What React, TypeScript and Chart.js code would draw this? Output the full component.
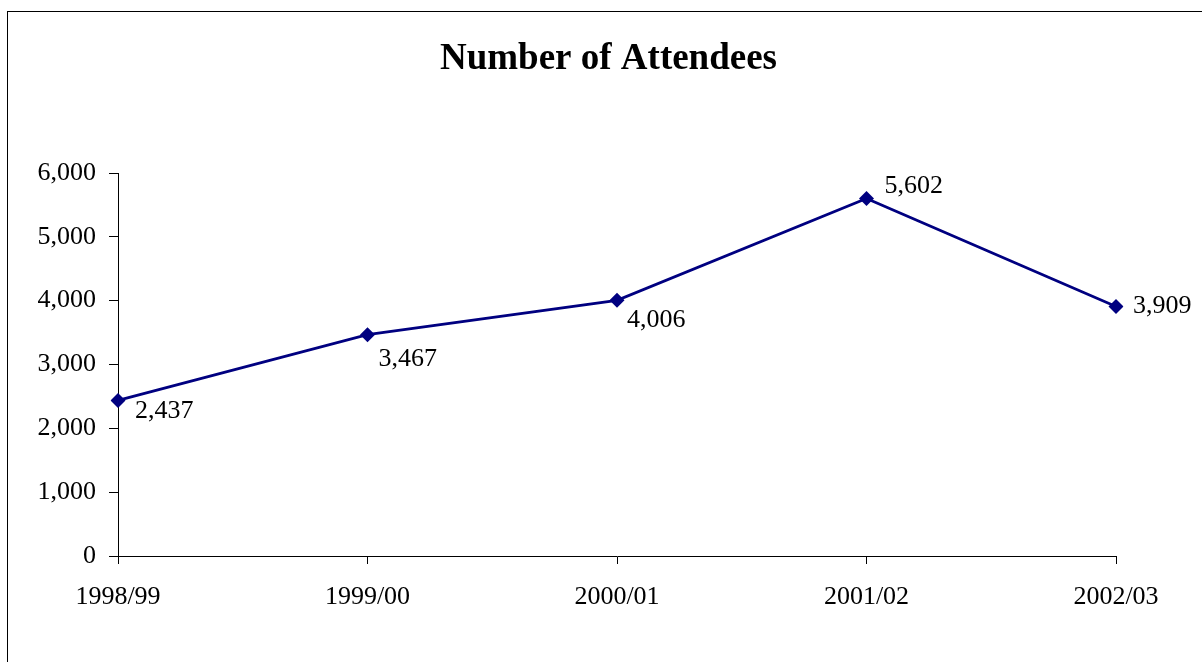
import React, { useEffect, useRef } from "react";
import { Chart, registerables } from "chart.js";

Chart.register(...registerables);

const categories: string[] = ["1998/99", "1999/00", "2000/01", "2001/02", "2002/03"];
const attendees: number[] = [2437, 3467, 4006, 5602, 3909];
const yTicks: number[] = [0, 1000, 2000, 3000, 4000, 5000, 6000];
const chartTitle = "Number of Attendees";

const NAVY = "#000080";
const FONT = '"Liberation Serif", "Times New Roman", serif';

// label offsets (dx from point to label's left edge, dy to label's center)
const labelOffsets: [number, number][] = [
  [17, 11],
  [11, 24],
  [10, 20],
  [18, -12],
  [17, 0],
];

const fmt = (v: number) => v.toLocaleString("en-US");

const framePlugin = {
  id: "frameAndTitle",
  beforeDraw(chart: any) {
    const ctx = chart.ctx;
    ctx.save();
    ctx.fillStyle = "#ffffff";
    ctx.fillRect(0, 0, chart.width, chart.height);
    ctx.strokeStyle = "#000000";
    ctx.lineWidth = 1;
    ctx.strokeRect(7.5, 11.5, chart.width + 20, chart.height + 20);
    ctx.fillStyle = "#000000";
    ctx.font = `bold 37px ${FONT}`;
    ctx.textAlign = "center";
    ctx.textBaseline = "alphabetic";
    ctx.fillText(chartTitle, 608.5, 69);
    ctx.restore();
  },
  afterDatasetsDraw(chart: any) {
    const ctx = chart.ctx;
    const meta = chart.getDatasetMeta(0);
    const data = chart.data.datasets[0].data as number[];
    ctx.save();
    ctx.fillStyle = "#000000";
    ctx.font = `26px ${FONT}`;
    ctx.textAlign = "left";
    ctx.textBaseline = "middle";
    meta.data.forEach((pt: any, i: number) => {
      const [dx, dy] = labelOffsets[i] || [10, 0];
      ctx.fillText(fmt(data[i]), pt.x + dx, pt.y + dy);
    });
    ctx.restore();
  },
};

export default function App() {
  const canvasRef = useRef<HTMLCanvasElement | null>(null);

  useEffect(() => {
    if (!canvasRef.current) return;
    const chart = new Chart(canvasRef.current, {
      type: "line",
      data: {
        labels: categories,
        datasets: [
          {
            label: chartTitle,
            data: attendees,
            borderColor: NAVY,
            backgroundColor: NAVY,
            borderWidth: 2.8,
            pointStyle: "rectRot",
            pointRadius: 7.5,
            pointHoverRadius: 7.5,
            pointBackgroundColor: NAVY,
            pointBorderColor: NAVY,
            pointBorderWidth: 0,
            tension: 0,
            fill: false,
          },
        ],
      },
      options: {
        responsive: false,
        animation: false,
        layout: { padding: { top: 173, left: 0, right: 86, bottom: 0 } },
        plugins: {
          legend: { display: false },
          title: { display: false },
          tooltip: { enabled: false },
        },
        scales: {
          x: {
            type: "category",
            offset: false,
            grid: {
              drawOnChartArea: false,
              drawTicks: true,
              tickLength: 8,
              color: "#000000",
            },
            border: { display: true, color: "#000000", width: 1 },
            ticks: {
              color: "#000000",
              font: { family: FONT, size: 26 },
              padding: 18,
              maxRotation: 0,
              autoSkip: false,
            },
            afterFit(scale: any) {
              scale.height = 106;
            },
          },
          y: {
            type: "linear",
            min: 0,
            max: 6000,
            afterBuildTicks(scale: any) {
              scale.ticks = yTicks.map((v) => ({ value: v }));
            },
            grid: {
              drawOnChartArea: false,
              drawTicks: true,
              tickLength: 9,
              color: "#000000",
            },
            border: { display: true, color: "#000000", width: 1 },
            ticks: {
              color: "#000000",
              font: { family: FONT, size: 26 },
              padding: 13,
              callback: (v: any) => fmt(Number(v)),
            },
            afterFit(scale: any) {
              scale.width = 118;
            },
          },
        },
      },
      plugins: [framePlugin],
    });
    return () => chart.destroy();
  }, []);

  return (
    <div style={{ position: "absolute", left: 0, top: 0, width: 1202, height: 662, background: "#fff" }}>
      <canvas ref={canvasRef} width={1202} height={662} style={{ display: "block" }} />
    </div>
  );
}
